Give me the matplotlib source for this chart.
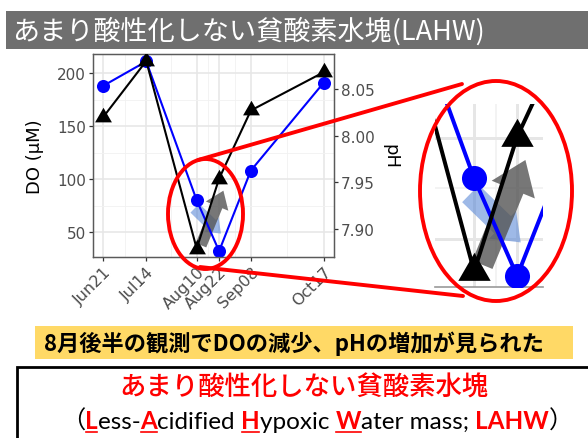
import matplotlib
matplotlib.use('Agg')
import matplotlib.pyplot as plt
import matplotlib.dates as mdates
from matplotlib.patches import Ellipse, Rectangle, FancyArrowPatch
from matplotlib.font_manager import FontProperties
from matplotlib.ticker import FormatStrFormatter
import numpy as np
import pandas as pd

# ---------------- data ----------------
dates = ['2021-06-21', '2021-07-14', '2021-08-10', '2021-08-22', '2021-09-08', '2021-10-17']
tick_labels = ['Jun21', 'Jul14', 'Aug10', 'Aug22', 'Sep08', 'Oct17']
do_values = [188, 211, 80, 32, 108, 191]            # DO (µM), blue circles
ph_values = [8.020, 8.080, 7.879, 7.954, 8.027, 8.068]  # pH, black triangles
do_ticks = [50, 100, 150, 200]
ph_ticks = [7.90, 7.95, 8.00, 8.05]

title_text = 'あまり酸性化しない貧酸素水塊(LAHW)'
summary_text = '8月後半の観測でDOの減少、pHの増加が見られた'
lahw_jp = 'あまり酸性化しない貧酸素水塊'
lahw_en_parts = [('（', 'k'), ('L', 'u'), ('ess-', 'k'), ('A', 'u'), ('cidified ', 'k'),
                 ('H', 'u'), ('ypoxic ', 'k'), ('W', 'u'), ('ater mass; ', 'k'),
                 ('LAHW', 'r'), ('）', 'k')]

# annotation arrows (day offset from first date, DO value)
arrow_ph_change = [(52.3, 37.5), (64.3, 89.0)]
arrow_do_change = [(49.0, 72.5), (63.0, 48.5)]

# ---------------- setup ----------------
W, H = 588, 439
fig = plt.figure(figsize=(W / 100, H / 100), dpi=100)
fig.patch.set_facecolor('white')

xd = mdates.date2num(pd.to_datetime(dates).to_pydatetime())
x0 = xd[0]
minor_x = (xd[:-1] + xd[1:]) / 2
do_lim = (26.4, 218.0)
ph_lim = (7.870, 8.0875)


def ph_from_do(v):
    return ph_lim[0] + (v - do_lim[0]) * (ph_lim[1] - ph_lim[0]) / (do_lim[1] - do_lim[0])


tri = [(0, 0.577), (-0.5, -0.289), (0.5, -0.289)]


def draw_panel(ax, ax2, s, xlim, ylim):
    ax.set_xticks(xd)
    ax.set_xticks(minor_x, minor=True)
    ax.set_yticks(do_ticks)
    ax.set_yticks([75, 125, 175], minor=True)
    ax.grid(which='major', color='#e6e6e6', lw=1.1 * s, zorder=0)
    ax.grid(which='minor', color='#f1f1f1', lw=0.6 * s, zorder=0)
    ax.set_axisbelow(True)
    ax.plot(xd, do_values, color='#0000ff', lw=1.5 * s, marker='o', ms=9.4 * s,
            mec='none', zorder=3)
    ax2.plot(xd, ph_values, color='black', lw=1.5 * s, marker=tri, ms=14.0 * s,
             mec='none', zorder=3)
    (a1, b1) = arrow_ph_change
    (a2, b2) = arrow_do_change
    p1 = FancyArrowPatch((x0 + a1[0], a1[1]), (x0 + b1[0], b1[1]),
                         arrowstyle='simple,head_length=1.2,head_width=1.75,tail_width=0.82',
                         mutation_scale=10 * s, color='#555555', alpha=0.8, lw=0,
                         shrinkA=0, shrinkB=0, zorder=2)
    p2 = FancyArrowPatch((x0 + a2[0], a2[1]), (x0 + b2[0], b2[1]),
                         arrowstyle='simple,head_length=0.95,head_width=1.45,tail_width=0.9',
                         mutation_scale=10 * s, color='#4f80d4', alpha=0.55, lw=0,
                         shrinkA=0, shrinkB=0, zorder=2)
    ax.add_patch(p2)
    ax.add_patch(p1)
    ax.set_xlim(*xlim)
    ax.set_ylim(*ylim)
    ax2.set_ylim(ph_from_do(ylim[0]), ph_from_do(ylim[1]))


# ---------------- main chart ----------------
ax = fig.add_axes([93 / W, 1 - 258 / H, (334 - 93) / W, (258 - 55) / H])
ax2 = ax.twinx()
draw_panel(ax, ax2, 1.0, (x0 - 5.5, x0 + 123.5), do_lim)
ax.set_xticklabels(tick_labels, rotation=45, ha='right', rotation_mode='anchor')
ax2.set_yticks(ph_ticks)
ax2.set_ylim(*ph_lim)
ax2.yaxis.set_major_formatter(FormatStrFormatter('%.2f'))
for a in (ax, ax2):
    a.tick_params(which='major', direction='out', length=3.0, width=0.9, color='#333333',
                  labelcolor='#4d4d4d', labelsize=11, pad=2)
    a.tick_params(which='minor', length=0)
    for sp in a.spines.values():
        sp.set_color('#5a5a5a')
        sp.set_linewidth(0.9)
ax.tick_params(axis='x', labelsize=11.5)
ax.text(-0.241, 0.5, 'DO (µM)', transform=ax.transAxes, rotation=90, ha='center',
        va='center', fontsize=13, color='black')
ax.text(1.232, 0.5, 'pH', transform=ax.transAxes, rotation=270, ha='center',
        va='center', fontsize=13, color='black')

# ---------------- zoomed inset ----------------
axi = fig.add_axes([435 / W, 1 - 288 / H, 108 / W, 183 / H])
axi2 = axi.twinx()
draw_panel(axi, axi2, 1.92, (x0 + 39.1, x0 + 69.2), (26.6, 116.5))
for a in (axi, axi2):
    a.tick_params(which='both', length=0, labelleft=False, labelright=False,
                  labelbottom=False)
    for k, sp in a.spines.items():
        sp.set_visible(False)
axi.spines['bottom'].set_visible(True)
axi.spines['bottom'].set_color('#999999')
axi.spines['bottom'].set_linewidth(1.2)

# ---------------- overlay (annotations, banner, boxes) ----------------
ov = fig.add_axes([0, 0, 1, 1])
ov.set_xlim(0, W)
ov.set_ylim(H, 0)
ov.axis('off')
ov.patch.set_alpha(0)

jp = 'Noto Sans CJK JP'
red = '#ff0000'
ov.add_patch(Ellipse((205.5, 215), 75, 110, fill=False, ec=red, lw=2.8))
ov.add_patch(Ellipse((496, 192), 152, 220, fill=False, ec=red, lw=2.8))
ov.plot([198, 462], [161, 85], color=red, lw=2.8, solid_capstyle='round')
ov.plot([200, 463], [268, 297], color=red, lw=2.8, solid_capstyle='round')

# title banner
ov.add_patch(Rectangle((6, 12), W - 6, 38, color='#6f6f6f', lw=0))
ov.text(12, 31.5, title_text, color='white', fontsize=19.5, family=jp,
        ha='left', va='center')

# yellow summary box
ov.add_patch(Rectangle((35, 327), 538, 33, color='#FFD966', lw=0))
ov.text(294, 344, summary_text, color='black', fontsize=16, family=jp,
        weight='bold', ha='center', va='center')

# bottom definition box
ov.add_patch(Rectangle((17, 368), 640, 120, fc='white', ec='black', lw=2.0))
ov.text(304, 388, lahw_jp, color=red, fontsize=19, family=jp, weight='medium',
        ha='center', va='center')

renderer = fig.canvas.get_renderer()
fp_norm = FontProperties(family=['Lato', jp], size=17.5)
fp_bold = FontProperties(family=['Lato', jp], size=17.5, weight='bold')
fp_paren = FontProperties(family=[jp], size=17.5)


def adv(s, fp):
    w1 = renderer.get_text_width_height_descent('|' + s + '|', fp, ismath=False)[0]
    w0 = renderer.get_text_width_height_descent('||', fp, ismath=False)[0]
    return w1 - w0


def prop_for(txt, kind):
    if txt in ('（', '）'):
        return fp_paren
    return fp_norm if kind == 'k' else fp_bold


widths = [adv(t, prop_for(t, k)) for t, k in lahw_en_parts]
total = sum(widths)
xc = 317 - total / 2
base_y = 429
for (txt, kind), w in zip(lahw_en_parts, widths):
    fp = prop_for(txt, kind)
    col = 'black' if kind == 'k' else red
    ov.text(xc, base_y, txt, color=col, fontproperties=fp, ha='left', va='baseline')
    if kind == 'u':
        ov.plot([xc + 0.5, xc + w - 0.5], [base_y + 4, base_y + 4], color=red, lw=1.2)
    xc += w

fig.savefig('out.png', dpi=100)
